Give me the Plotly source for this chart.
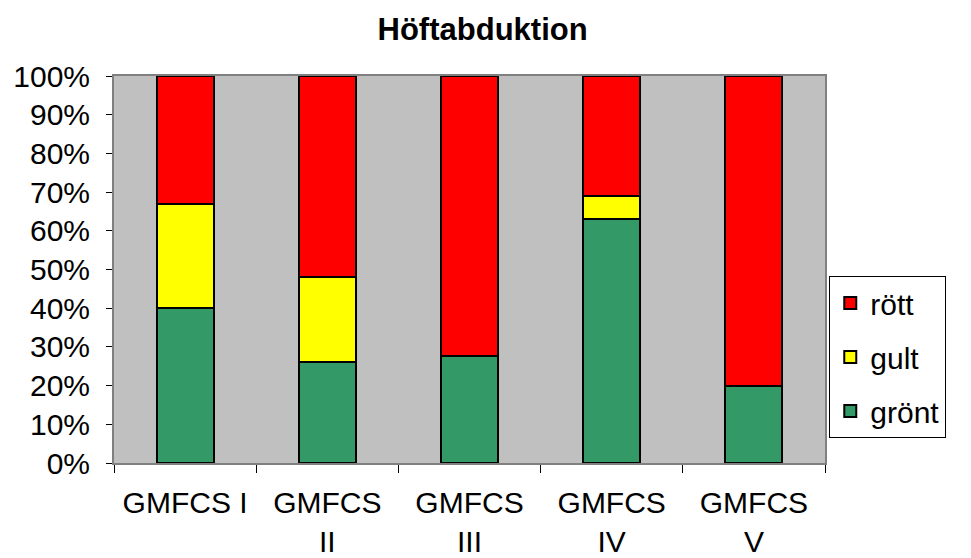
import plotly.graph_objects as go

categories = ["GMFCS I", "GMFCS<br>II", "GMFCS<br>III", "GMFCS<br>IV", "GMFCS<br>V"]
gront = [40, 26, 27.6, 63, 20]
gult = [27, 22, 0, 6, 0]
rott = [33, 52, 72.4, 31, 80]

fig = go.Figure()
series = [("grönt", gront, "#339966", 3), ("gult", gult, "#FFFF00", 2), ("rött", rott, "#FF0000", 1)]
for name, vals, col, rank in series:
    fig.add_trace(go.Bar(
        x=categories, y=[v / 100 for v in vals], name=name, legendgroup=name, legendrank=rank,
        marker=dict(color=col, line=dict(color="black", width=2)),
    ))

fig.update_layout(
    width=971, height=558,
    barmode="stack", bargap=0.6,
    margin=dict(l=114, r=146, t=76, b=95),
    paper_bgcolor="white", plot_bgcolor="#C0C0C0",
    font=dict(family="Arial, Liberation Sans, sans-serif", color="black", size=30),
    title=dict(text="<b>Höftabduktion</b>", x=0.497, xanchor="center", y=0.948, yanchor="middle",
               font=dict(size=31)),
    legend=dict(x=1.006, xanchor="left", y=0.274, yanchor="middle",
                bordercolor="black", borderwidth=1, bgcolor="white",
                traceorder="grouped", tracegroupgap=12,
                font=dict(size=30)),
)
fig.update_yaxes(range=[0, 1], dtick=0.1, tickformat=".0%", showgrid=False,
                 showline=True, linecolor="#808080", linewidth=2, mirror=True,
                 ticks="outside", ticklen=6, tickcolor="black", zeroline=False,
                 ticklabelstandoff=10, automargin=False)
fig.update_xaxes(showgrid=False, showline=True, linecolor="#808080", linewidth=2, mirror=True,
                 ticks="outside", tickson="boundaries", ticklen=8, tickcolor="black",
                 ticklabelstandoff=12, automargin=False)

fig.write_html("out.html")
